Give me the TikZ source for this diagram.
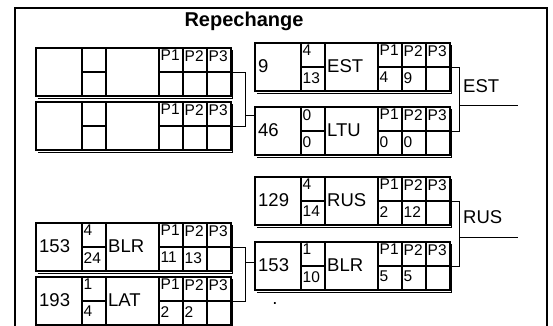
\documentclass[tikz,border=0pt]{standalone}
\usepackage{fontspec}
\setmainfont{Liberation Sans}

% une case de match : nom, coin haut gauche, nombre, score haut, score bas, pays, P1, P2
\newcommand{\matchbox}[8]{%
  \begin{scope}[shift={(#2)}]
    \node[cell, minimum width=195pt, minimum height=48pt, anchor=north west] (#1) at (0,0) {};
    \draw[cellline] (46,0) -- (46,48) (70,0) -- (70,48) (123,0) -- (123,48)
                    (147,0) -- (147,48) (171,0) -- (171,48);
    \draw[cellline] (46,24) -- (70,24) (123,24) -- (195,24);
    \draw[shadowline] (2,50) -- (196.8,50) -- (196.8,2);
    \node[numtxt, anchor=west] (#1-num) at (3,23) {#3};
    \node[smalltxt, anchor=north west] (#1-s1) at (47.5,2) {#4};
    \node[smalltxt, anchor=north west] (#1-s2) at (47.5,29) {#5};
    \node[numtxt, anchor=west] (#1-team) at (72,23) {#6};
    \node[smalltxt, anchor=north west] (#1-p1) at (124.5,2) {P1};
    \node[smalltxt, anchor=north west] (#1-p2) at (148.5,2) {P2};
    \node[smalltxt, anchor=north west] (#1-p3) at (172.5,2) {P3};
    \node[smalltxt, anchor=north west] (#1-v1) at (124.5,29) {#7};
    \node[smalltxt, anchor=north west] (#1-v2) at (148.5,29) {#8};
    \coordinate (#1-out) at (195,24);
  \end{scope}}

\begin{document}
\begin{tikzpicture}[x=1pt, y=-1pt,
    cell/.style={draw, line width=1.5pt, inner sep=0pt, outer sep=0pt},
    cellline/.style={line width=1.5pt},
    shadowline/.style={line width=1pt},
    link/.style={line width=1pt},
    frame/.style={line width=1.5pt},
    numtxt/.style={font=\fontsize{18.5}{18.5}\selectfont, inner sep=0pt},
    smalltxt/.style={font=\fontsize{15.5}{15.5}\selectfont, inner sep=0pt}]
    \useasboundingbox (0,0) rectangle (553,325);

    % Cadre et titre
    \draw[frame] (15,326) |- (547,8) -- (547,326);
    \node[font=\bfseries\fontsize{20}{20}\selectfont, inner sep=0pt] (title) at (244,21) {Repechange};

    % Colonne de gauche
    \matchbox{L1}{36,48}{}{}{}{}{}{}
    \matchbox{L2}{36,102}{}{}{}{}{}{}
    \matchbox{L3}{36,223}{153}{4}{24}{BLR}{11}{13}
    \matchbox{L4}{36,277}{193}{1}{4}{LAT}{2}{2}

    % Colonne de droite
    \matchbox{R1}{255,43}{9}{4}{13}{EST}{4}{9}
    \matchbox{R2}{255,107}{46}{0}{0}{LTU}{0}{0}
    \matchbox{R3}{255,177}{129}{4}{14}{RUS}{2}{12}
    \matchbox{R4}{255,242}{153}{1}{10}{BLR}{5}{5}

    % Liaisons gauche -> droite
    \draw[link] (L1-out) -- ++(14,0) |- (L2-out);
    \coordinate (jL1) at (245,115);
    \draw[link] (jL1) -- (R2.west |- jL1);
    \draw[link] (L3-out) -- ++(14,0) |- (L4-out);
    \coordinate (jL2) at (245,262);
    \draw[link] (jL2) -- (R4.west |- jL2);

    % Liaisons vers les vainqueurs
    \draw[link] (R1-out) -- ++(9,0) |- (R2-out);
    \coordinate (jR1) at (459,105);
    \coordinate (eR1) at (518,105);
    \draw[link] (jR1) -- (eR1);
    \node[numtxt, anchor=west] (wR1) at (463,86) {EST};
    \draw[link] (R3-out) -- ++(9,0) |- (R4-out);
    \coordinate (jR2) at (459,237);
    \coordinate (eR2) at (518,237);
    \draw[link] (jR2) -- (eR2);
    \node[numtxt, anchor=west] (wR2) at (463,217) {RUS};

    \node[numtxt] (dot) at (275,304) {.};
\end{tikzpicture}
\end{document}
